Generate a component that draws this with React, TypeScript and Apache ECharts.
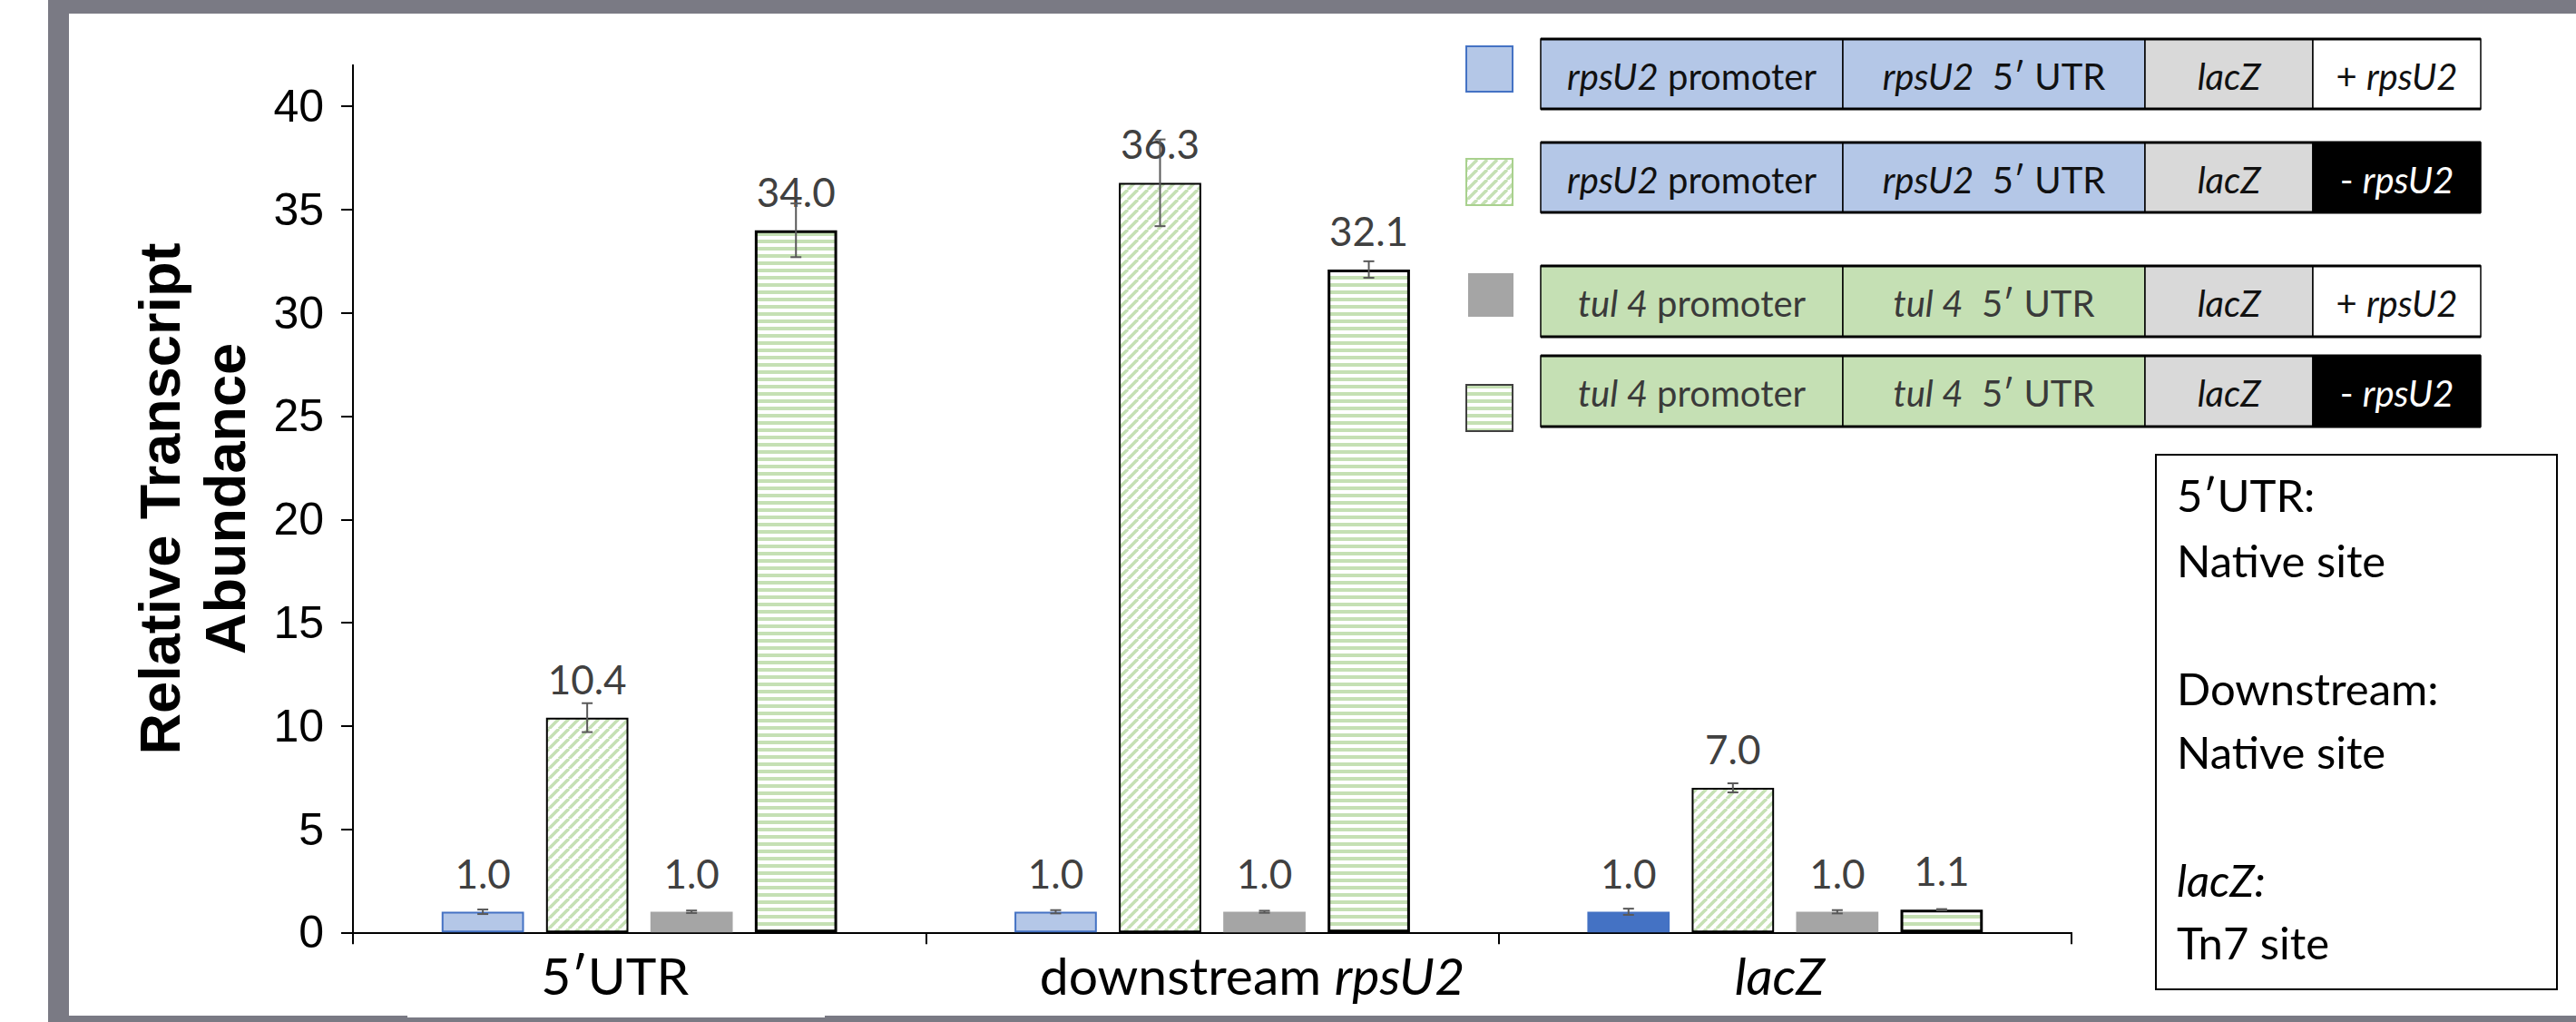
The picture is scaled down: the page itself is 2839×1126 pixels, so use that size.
import React, { useEffect, useRef } from "react";
import * as echarts from "echarts";

// ---------- data ----------
const categories = ["5′UTR", "downstream rpsU2", "lacZ"];
const seriesNames = [
  "rpsU2 promoter / rpsU2 5′ UTR / lacZ / + rpsU2",
  "rpsU2 promoter / rpsU2 5′ UTR / lacZ / - rpsU2",
  "tul 4 promoter / tul 4 5′ UTR / lacZ / + rpsU2",
  "tul 4 promoter / tul 4 5′ UTR / lacZ / - rpsU2",
];
const valuesRpsPlus = [1.0, 1.0, 1.0];
const valuesRpsMinus = [10.4, 36.3, 7.0];
const valuesTulPlus = [1.0, 1.0, 1.0];
const valuesTulMinus = [34.0, 32.1, 1.1];
const errRpsPlus = [0.11, 0.08, 0.15];
const errRpsMinus = [0.7, 2.1, 0.22];
const errTulPlus = [0.06, 0.05, 0.08];
const errTulMinus = [1.3, 0.4, 0.03];
const yTicks = [0, 5, 10, 15, 20, 25, 30, 35, 40];
const yMax = 42;
const noteLines = ["5′UTR:", "Native site", "Downstream:", "Native site", "lacZ:", "Tn7 site"];

const BAR_W = 0.1437; // fraction of band
const BAR_GAP = 0.268; // fraction of bar width

const LIGHT_BLUE = "#b4c7e7";
const BLUE = "#4472c4";
const GREEN = "#c5e0b4";
const GRAY = "#a5a5a5";
const FRAME = "#7a7a84";

function makeDiag() {
  const P = 11;
  const c = document.createElement("canvas");
  c.width = P;
  c.height = P;
  const ctx = c.getContext("2d")!;
  ctx.fillStyle = "#ffffff";
  ctx.fillRect(0, 0, P, P);
  ctx.strokeStyle = GREEN;
  ctx.lineWidth = 3.6;
  for (const off of [-P, 0, P]) {
    ctx.beginPath();
    ctx.moveTo(off, P);
    ctx.lineTo(off + P, 0);
    ctx.stroke();
  }
  return { image: c.toDataURL(), repeat: "repeat", imageWidth: P, imageHeight: P };
}
function makeHoriz() {
  const P = 8;
  const c = document.createElement("canvas");
  c.width = P;
  c.height = P;
  const ctx = c.getContext("2d")!;
  ctx.fillStyle = "#ffffff";
  ctx.fillRect(0, 0, P, P);
  ctx.fillStyle = GREEN;
  ctx.fillRect(0, 0, P, 4);
  return { image: c.toDataURL(), repeat: "repeat", imageWidth: P, imageHeight: P };
}

export default function App() {
  const ref = useRef<HTMLDivElement>(null);
  useEffect(() => {
    document.body.style.margin = "0";
    if (!ref.current) return;
    const chart = echarts.init(ref.current, null, { renderer: "svg" });
    const diag: any = makeDiag();
    const horiz: any = makeHoriz();

    const lato = "Lato";
    const arial = "Liberation Sans";

    const labelCfg = {
      show: true,
      position: "top",
      distance: 21,
      color: "#404040",
      fontFamily: lato,
      fontSize: 44,
      formatter: (p: any) => Number(p.value).toFixed(1),
    };

    const errData: any[] = [];
    const allVals = [valuesRpsPlus, valuesRpsMinus, valuesTulPlus, valuesTulMinus];
    const allErr = [errRpsPlus, errRpsMinus, errTulPlus, errTulMinus];
    allVals.forEach((vals, s) => {
      vals.forEach((v, c) => errData.push([c, v, allErr[s][c], s]));
    });

    // ---- legend / annotations graphics ----
    const g: any[] = [];
    // frame
    g.push({ type: "rect", shape: { x: 53, y: 0, width: 2839 - 53, height: 15 }, style: { fill: FRAME }, z: 100 });
    g.push({ type: "rect", shape: { x: 53, y: 0, width: 23, height: 1126 }, style: { fill: FRAME }, z: 100 });
    g.push({ type: "rect", shape: { x: 53, y: 1119, width: 2839 - 53, height: 7 }, style: { fill: FRAME }, z: 100 });
    g.push({ type: "rect", shape: { x: 449, y: 1119, width: 460, height: 2 }, style: { fill: "#ffffff" }, z: 101 });

    // legend swatches
    g.push({ type: "rect", shape: { x: 1616, y: 51, width: 51, height: 50 }, style: { fill: LIGHT_BLUE, stroke: BLUE, lineWidth: 2 }, z: 100 });
    g.push({ type: "rect", shape: { x: 1616, y: 175, width: 51, height: 51 }, style: { fill: diag, stroke: "#a9d18e", lineWidth: 2 }, z: 100 });
    g.push({ type: "rect", shape: { x: 1618, y: 301, width: 50, height: 48 }, style: { fill: GRAY }, z: 100 });
    g.push({ type: "rect", shape: { x: 1616, y: 424, width: 51, height: 51 }, style: { fill: horiz, stroke: "#404040", lineWidth: 2 }, z: 100 });

    const segX = [1698, 2031, 2364, 2549, 2734];
    const rows = [
      { y: 43, h: 77, fills: [LIGHT_BLUE, LIGHT_BLUE, "#d9d9d9", "#ffffff"], txt: ["{i|rpsU2}{n| promoter}", "{i|rpsU2}{n|  5′ UTR}", "{i|lacZ}", "{n|+ }{i|rpsU2}"], col: ["#111", "#111", "#111", "#111"] },
      { y: 157, h: 77, fills: [LIGHT_BLUE, LIGHT_BLUE, "#d9d9d9", "#000000"], txt: ["{i|rpsU2}{n| promoter}", "{i|rpsU2}{n|  5′ UTR}", "{i|lacZ}", "{n|- }{i|rpsU2}"], col: ["#111", "#111", "#111", "#fff"] },
      { y: 293, h: 78, fills: [GREEN, GREEN, "#d9d9d9", "#ffffff"], txt: ["{i|tul 4}{n| promoter}", "{i|tul 4}{n|  5′ UTR}", "{i|lacZ}", "{n|+ }{i|rpsU2}"], col: ["#3a3a3a", "#3a3a3a", "#111", "#111"] },
      { y: 392, h: 78, fills: [GREEN, GREEN, "#d9d9d9", "#000000"], txt: ["{i|tul 4}{n| promoter}", "{i|tul 4}{n|  5′ UTR}", "{i|lacZ}", "{n|- }{i|rpsU2}"], col: ["#3a3a3a", "#3a3a3a", "#111", "#fff"] },
    ];
    rows.forEach((r) => {
      for (let k = 0; k < 4; k++) {
        g.push({
          type: "rect",
          shape: { x: segX[k], y: r.y, width: segX[k + 1] - segX[k], height: r.h },
          style: { fill: r.fills[k], stroke: "#000", lineWidth: 1.5 },
          z: 100,
        });
        const fs = 40;
        g.push({
          type: "text",
          x: (segX[k] + segX[k + 1]) / 2,
          y: r.y + r.h / 2 + 2,
          z: 102,
          style: {
            text: r.txt[k],
            align: "center",
            verticalAlign: "middle",
            textAlign: "center",
            textVerticalAlign: "middle",
            fontFamily: lato,
            fontSize: fs,
            fill: r.col[k],
            rich: {
              i: { fontFamily: lato, fontSize: fs, fontStyle: "italic", fill: r.col[k] },
              n: { fontFamily: lato, fontSize: fs, fill: r.col[k] },
            },
          },
        });
      }
      g.push({ type: "line", shape: { x1: segX[0], y1: r.y, x2: segX[4], y2: r.y }, style: { stroke: "#000", lineWidth: 3 }, z: 103 });
      g.push({ type: "line", shape: { x1: segX[0], y1: r.y + r.h, x2: segX[4], y2: r.y + r.h }, style: { stroke: "#000", lineWidth: 3 }, z: 103 });
    });

    // note box
    g.push({ type: "rect", shape: { x: 2376, y: 501, width: 442, height: 589 }, style: { fill: "#fff", stroke: "#000", lineWidth: 2 }, z: 100 });
    const noteBase = [564, 636, 777, 847, 988, 1057];
    noteLines.forEach((t, k) => {
      g.push({
        type: "text",
        x: 2399,
        y: noteBase[k] - 19,
        z: 102,
        style: {
          text: t,
          align: "left",
          verticalAlign: "middle",
          textAlign: "left",
          textVerticalAlign: "middle",
          fontFamily: lato,
          fontSize: 49,
          fontStyle: t === "lacZ:" ? "italic" : "normal",
          fill: "#000",
        },
      });
    });

    const xfs = 57;
    const option: any = {
      animation: false,
      backgroundColor: "#ffffff",
      grid: { left: 389, right: 556, top: 71.7, bottom: 98.7, containLabel: false },
      xAxis: {
        type: "category",
        data: categories,
        axisLine: { show: true, lineStyle: { color: "#000", width: 2 } },
        axisTick: { show: true, length: 13, lineStyle: { color: "#000", width: 2 } },
        axisLabel: {
          margin: 18,
          formatter: (v: string) => {
            if (v === "downstream rpsU2") return "{d|downstream }{di|rpsU2}";
            if (v === "lacZ") return "{l|lacZ}";
            return "{u|" + v + "}";
          },
          rich: {
            u: { fontFamily: lato, fontSize: xfs, color: "#000", padding: [0, 54, 0, 0] },
            d: { fontFamily: lato, fontSize: xfs, color: "#000", padding: [0, 0, 0, 88] },
            di: { fontFamily: lato, fontSize: xfs, color: "#000", fontStyle: "italic" },
            l: { fontFamily: lato, fontSize: xfs, color: "#000", fontStyle: "italic", padding: [0, 12, 0, 0] },
          },
        },
      },
      yAxis: {
        type: "value",
        min: 0,
        max: yMax,
        interval: 5,
        splitLine: { show: false },
        axisLine: { show: true, lineStyle: { color: "#000", width: 2 } },
        axisTick: { show: true, length: 13, customValues: yTicks, lineStyle: { color: "#000", width: 2 } },
        axisLabel: {
          customValues: yTicks,
          margin: 32,
          fontFamily: arial,
          fontSize: 50,
          color: "#000",
        },
        name: "Relative Transcript\nAbundance",
        nameLocation: "middle",
        nameRotate: 90,
        nameGap: 105,
        nameTextStyle: { fontFamily: arial, fontWeight: "bold", fontSize: 63, lineHeight: 72, color: "#000" },
      },
      series: [
        {
          name: seriesNames[0],
          type: "bar",
          barWidth: (BAR_W * 100).toFixed(2) + "%",
          barGap: (BAR_GAP * 100).toFixed(1) + "%",
          data: valuesRpsPlus.map((v, i) =>
            i === 2 ? { value: v, itemStyle: { color: BLUE, borderColor: BLUE } } : v
          ),
          itemStyle: { color: LIGHT_BLUE, borderColor: BLUE, borderWidth: 2 },
          label: labelCfg,
        },
        {
          name: seriesNames[1],
          type: "bar",
          barWidth: (BAR_W * 100).toFixed(2) + "%",
          barGap: (BAR_GAP * 100).toFixed(1) + "%",
          data: valuesRpsMinus,
          itemStyle: { color: diag, borderColor: "#000", borderWidth: 2 },
          label: labelCfg,
        },
        {
          name: seriesNames[2],
          type: "bar",
          barWidth: (BAR_W * 100).toFixed(2) + "%",
          barGap: (BAR_GAP * 100).toFixed(1) + "%",
          data: valuesTulPlus,
          itemStyle: { color: GRAY },
          label: labelCfg,
        },
        {
          name: seriesNames[3],
          type: "bar",
          barWidth: (BAR_W * 100).toFixed(2) + "%",
          barGap: (BAR_GAP * 100).toFixed(1) + "%",
          data: valuesTulMinus,
          itemStyle: { color: horiz, borderColor: "#000", borderWidth: 3 },
          label: labelCfg,
        },
        {
          type: "custom",
          name: "error",
          z: 10,
          encode: { x: 0, y: 1 },
          data: errData,
          renderItem: (params: any, api: any) => {
            const cat = api.value(0);
            const val = api.value(1);
            const err = api.value(2);
            const s = api.value(3);
            const band = api.size([1, 0])[0];
            const bw = band * BAR_W;
            const gap = bw * BAR_GAP;
            const c = api.coord([cat, val]);
            const x = c[0] + (s - 1.5) * (bw + gap);
            const yt = api.coord([cat, val + err])[1];
            const yb = api.coord([cat, val - err])[1];
            const st = { stroke: "#595959", lineWidth: 2 };
            return {
              type: "group",
              children: [
                { type: "line", shape: { x1: x, y1: yt, x2: x, y2: yb }, style: st },
                { type: "line", shape: { x1: x - 6, y1: yt, x2: x + 6, y2: yt }, style: st },
                { type: "line", shape: { x1: x - 6, y1: yb, x2: x + 6, y2: yb }, style: st },
              ],
            };
          },
        },
      ],
      graphic: { elements: g },
    };
    chart.setOption(option);
    return () => chart.dispose();
  }, []);
  return <div ref={ref} style={{ width: 2839, height: 1126 }} />;
}
